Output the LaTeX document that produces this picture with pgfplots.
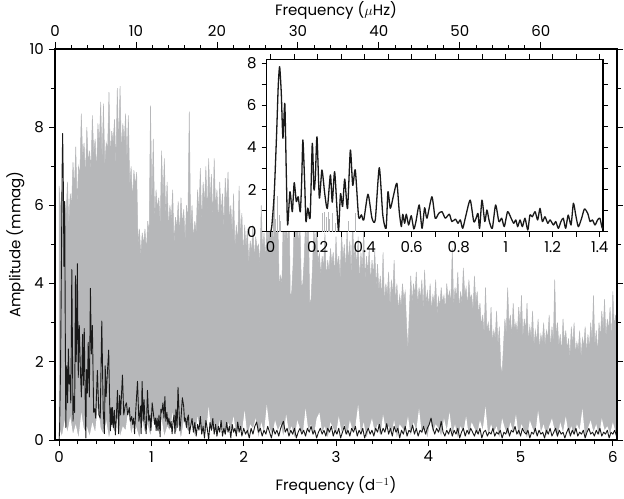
\documentclass[border=0pt]{standalone}
\usepackage{fontspec}
\setmainfont{Poppins}
\usepackage{pgfplots}
\usepackage{pgfplotstable}
\pgfplotsset{compat=1.18}
\definecolor{specgrey}{RGB}{182,183,185}
\definecolor{specblack}{RGB}{25,25,25}

% upper edge of the grey spectrum: spike tops and the solid level between them
\pgfplotstableread{
x y
0.000 6.5
0.015 5.8
0.030 6.4
0.045 5.3
0.060 6.1
0.075 5.7
0.090 6.6
0.105 5.5
0.120 6.3
0.135 6.0
0.150 7.1
0.165 6.4
0.180 7.5
0.195 6.0
0.210 7.0
0.225 6.8
0.240 8.35
0.255 7.2
0.270 7.6
0.285 6.7
0.300 8.0
0.315 7.1
0.330 7.4
0.345 6.9
0.360 8.3
0.375 7.3
0.390 7.7
0.405 6.8
0.420 8.1
0.435 7.5
0.450 8.65
0.465 7.1
0.480 8.6
0.495 7.0
0.510 7.6
0.525 7.4
0.540 8.9
0.555 7.2
0.570 7.9
0.585 7.6
0.600 8.2
0.615 7.0
0.630 9.0
0.645 7.5
0.660 9.05
0.675 7.3
0.690 8.1
0.705 7.6
0.720 8.35
0.735 7.1
0.750 8.3
0.765 6.5
0.780 7.0
0.795 6.1
0.810 6.9
0.825 6.5
0.840 6.85
0.855 5.0
0.870 5.4
0.885 4.7
0.900 5.3
0.915 5.0
0.930 5.4
0.945 4.8
0.960 5.6
0.975 5.2
0.990 8.55
1.005 6.0
1.020 7.7
1.035 5.6
1.050 6.4
1.065 5.9
1.080 6.2
1.095 5.5
1.110 7.4
1.125 6.1
1.140 7.2
1.155 5.7
1.170 6.6
1.185 5.4
1.200 6.0
1.215 5.6
1.230 6.4
1.245 5.0
1.260 5.7
1.275 5.4
1.290 6.1
1.305 5.2
1.320 6.2
1.335 5.5
1.350 5.9
1.365 5.1
1.380 6.0
1.395 5.6
1.410 8.4
1.425 5.4
1.440 6.0
1.455 5.1
1.470 5.6
1.485 5.3
1.500 6.4
1.515 5.8
1.530 6.95
1.545 5.5
1.560 6.6
1.575 6.0
1.590 7.0
1.605 5.7
1.620 7.2
1.635 6.1
1.650 6.8
1.665 5.6
1.680 7.2
1.695 5.9
1.710 6.4
1.725 5.5
1.740 6.6
1.755 5.8
1.770 6.3
1.785 5.4
1.800 6.7
1.815 6.0
1.830 6.86
1.845 5.6
1.860 6.0
1.875 5.3
1.890 6.3
1.905 4.9
1.920 5.5
1.935 5.0
1.950 6.5
1.965 5.2
1.980 5.8
1.995 4.7
2.010 5.5
2.025 4.9
2.040 5.4
2.055 4.5
2.070 5.1
2.085 4.8
2.100 5.5
2.115 4.6
2.130 5.2
2.145 4.9
2.160 5.0
2.175 4.4
2.190 6.0
2.205 4.8
2.220 5.3
2.235 4.6
2.250 5.5
2.265 5.0
2.280 6.0
2.295 5.2
2.310 5.8
2.325 4.9
2.340 6.2
2.355 5.1
2.370 5.6
2.385 3.9
2.400 4.2
2.415 4.0
2.430 6.0
2.445 5.0
2.460 5.7
2.475 4.8
2.490 6.3
2.505 3.6
2.520 3.8
2.535 4.5
2.550 5.9
2.565 5.1
2.580 6.1
2.595 4.9
2.610 5.5
2.625 3.9
2.640 4.0
2.655 4.6
2.670 5.6
2.685 5.0
2.700 5.8
2.715 3.5
2.730 3.6
2.745 4.4
2.760 5.4
2.775 4.9
2.790 5.6
2.805 4.5
2.820 4.8
2.835 4.2
2.850 4.7
2.865 4.4
2.880 5.3
2.895 4.1
2.910 4.6
2.925 4.3
2.940 4.9
2.955 4.5
2.970 4.8
2.985 4.2
3.000 5.2
3.015 4.4
3.030 4.7
3.045 4.1
3.060 5.3
3.075 4.6
3.090 5.0
3.105 4.3
3.120 5.4
3.135 4.5
3.150 5.1
3.165 4.2
3.180 5.6
3.195 4.6
3.210 5.0
3.225 4.4
3.240 5.2
3.255 4.0
3.270 4.8
3.285 4.3
3.300 5.4
3.315 4.1
3.330 4.7
3.345 4.3
3.360 4.9
3.375 4.0
3.390 4.6
3.405 4.2
3.420 4.85
3.435 3.9
3.450 4.5
3.465 3.8
3.480 4.2
3.495 3.6
3.510 4.8
3.525 3.5
3.540 4.0
3.555 3.7
3.570 4.3
3.585 3.4
3.600 4.1
3.615 3.7
3.630 4.6
3.645 3.5
3.660 4.0
3.675 3.3
3.690 3.7
3.705 3.4
3.720 4.0
3.735 3.6
3.750 3.8
3.765 2.9
3.780 2.3
3.795 3.3
3.810 4.2
3.825 3.5
3.840 4.0
3.855 3.7
3.870 4.3
3.885 3.4
3.900 3.9
3.915 3.6
3.930 4.1
3.945 3.3
3.960 4.35
3.975 3.5
3.990 3.8
4.005 3.4
4.020 4.0
4.035 3.3
4.050 3.7
4.065 3.5
4.080 4.1
4.095 3.2
4.110 3.65
4.125 3.4
4.140 3.9
4.155 3.5
4.170 3.7
4.185 3.3
4.200 4.0
4.215 3.6
4.230 3.8
4.245 3.5
4.260 4.9
4.275 3.4
4.290 3.9
4.305 3.6
4.320 4.3
4.335 3.3
4.350 3.8
4.365 3.5
4.380 4.4
4.395 3.7
4.410 3.9
4.425 3.4
4.440 4.1
4.455 3.6
4.470 3.7
4.485 3.3
4.500 4.2
4.515 3.5
4.530 3.8
4.545 3.2
4.560 3.5
4.575 2.9
4.590 3.2
4.605 2.7
4.620 3.9
4.635 2.8
4.650 3.0
4.665 2.6
4.680 3.4
4.695 2.5
4.710 2.8
4.725 2.6
4.740 3.3
4.755 2.4
4.770 2.9
4.785 1.9
4.800 1.7
4.815 2.4
4.830 3.1
4.845 2.7
4.860 3.9
4.875 2.9
4.890 3.2
4.905 2.6
4.920 3.5
4.935 2.8
4.950 3.0
4.965 2.7
4.980 3.4
4.995 2.9
5.010 3.7
5.025 2.6
5.040 3.1
5.055 2.8
5.070 3.5
5.085 2.5
5.100 2.9
5.115 2.6
5.130 3.3
5.145 2.4
5.160 2.8
5.175 2.5
5.190 3.1
5.205 2.3
5.220 2.7
5.235 2.5
5.250 3.0
5.265 2.4
5.280 2.8
5.295 2.6
5.310 3.2
5.325 2.3
5.340 2.9
5.355 2.5
5.370 4.1
5.385 2.6
5.400 3.0
5.415 2.4
5.430 2.7
5.445 2.2
5.460 3.1
5.475 2.5
5.490 2.8
5.505 2.3
5.520 2.6
5.535 2.1
5.550 2.9
5.565 2.4
5.580 3.0
5.595 2.2
5.610 2.5
5.625 2.3
5.640 2.8
5.655 2.1
5.670 2.6
5.685 2.4
5.700 2.9
5.715 2.2
5.730 2.7
5.745 2.3
5.760 3.0
5.775 2.5
5.790 3.7
5.805 2.4
5.820 2.8
5.835 2.2
5.850 3.0
5.865 2.6
5.880 3.3
5.895 2.8
5.910 3.6
5.925 2.6
5.940 3.1
5.955 2.8
5.970 3.4
5.985 2.5
6.000 3.8
6.015 2.9
6.030 3.2
6.045 2.7
}\greytop

% lower edge of the grey spectrum (its minima)
\pgfplotstableread{
x y
0.00 0.3
0.03 0.1
0.06 0.5
0.09 0.2
0.12 0.6
0.15 0.15
0.18 0.4
0.21 0.05
0.24 0.7
0.27 0.25
0.30 0.35
0.33 0.1
0.36 0.45
0.39 0.2
0.42 0.9
0.45 0.3
0.48 0.15
0.51 0.5
0.54 0.05
0.57 0.4
0.60 0.2
0.63 0.6
0.66 0.1
0.69 0.35
0.72 0.25
0.75 0.8
0.78 0.15
0.81 0.45
0.84 0.3
0.87 0.05
0.90 0.5
0.93 0.2
0.96 0.4
0.99 0.1
1.02 0.65
1.05 0.3
1.08 0.2
1.11 0.55
1.14 0.1
1.17 0.35
1.20 0.25
1.23 0.7
1.26 0.15
1.29 0.4
1.32 0.05
1.35 0.5
1.38 0.3
1.41 0.2
1.44 0.45
1.47 0.1
1.50 0.6
1.53 0.25
1.56 0.35
1.59 0.15
1.62 0.85
1.65 0.2
1.68 0.4
1.71 0.05
1.74 0.5
1.77 0.3
1.80 0.1
1.83 0.45
1.86 0.25
1.89 0.6
1.92 0.15
1.95 0.35
1.98 0.2
2.01 0.75
2.04 0.1
2.07 0.4
2.10 0.3
2.13 0.55
2.16 0.05
2.19 0.45
2.22 0.2
2.25 0.9
2.28 0.3
2.31 0.15
2.34 0.5
2.37 0.25
2.40 0.4
2.43 0.1
2.46 0.65
2.49 0.2
2.52 0.35
2.55 0.05
2.58 0.5
2.61 0.3
2.64 0.15
2.67 0.8
2.70 0.25
2.73 0.4
2.76 0.1
2.79 0.55
2.82 0.7
2.85 0.2
2.88 0.35
2.91 0.05
2.94 0.45
2.97 0.3
3.00 0.15
3.03 0.6
3.06 0.2
3.09 0.4
3.12 0.1
3.15 0.5
3.18 0.25
3.21 0.35
3.24 0.9
3.27 0.15
3.30 0.45
3.33 0.05
3.36 0.3
3.39 0.55
3.42 0.2
3.45 0.4
3.48 0.1
3.51 0.65
3.54 0.25
3.57 0.35
3.60 0.15
3.63 0.5
3.66 0.05
3.69 0.4
3.72 0.3
3.75 0.2
3.78 0.6
3.81 0.1
3.84 0.45
3.87 0.25
3.90 0.8
3.93 0.15
3.96 0.35
3.99 0.05
4.02 0.5
4.05 0.2
4.08 0.4
4.11 0.3
4.14 0.1
4.17 0.55
4.20 0.25
4.23 0.7
4.26 0.15
4.29 0.4
4.32 0.05
4.35 0.35
4.38 0.2
4.41 0.6
4.44 0.1
4.47 0.45
4.50 0.3
4.53 0.15
4.56 0.5
4.59 0.25
4.62 0.85
4.65 0.1
4.68 0.4
4.71 0.2
4.74 0.35
4.77 0.05
4.80 0.55
4.83 0.3
4.86 0.15
4.89 0.45
4.92 0.2
4.95 0.65
4.98 0.1
5.01 0.4
5.04 0.25
5.07 0.05
5.10 0.5
5.13 0.3
5.16 0.15
5.19 0.75
5.22 0.2
5.25 0.4
5.28 0.1
5.31 0.35
5.34 0.55
5.37 0.25
5.40 0.05
5.43 0.45
5.46 0.2
5.49 0.6
5.52 0.15
5.55 0.35
5.58 0.1
5.61 0.4
5.64 0.25
5.67 0.8
5.70 0.05
5.73 0.3
5.76 0.5
5.79 0.2
5.82 0.4
5.85 0.1
5.88 0.55
5.91 0.25
5.94 0.35
5.97 0.15
6.00 0.45
6.03 0.2
6.045 0.3
}\greylow

\pgfplotstableread{
x y
0.000 0.0
0.005 0.3
0.015 1.8
0.025 4.6
0.032 6.9
0.038 7.84
0.045 6.6
0.052 4.44
0.060 6.1
0.066 3.0
0.072 0.32
0.082 1.9
0.092 0.95
0.100 2.33
0.109 1.43
0.117 1.66
0.126 0.95
0.132 2.46
0.137 4.36
0.145 2.2
0.150 0.48
0.158 1.12
0.168 0.7
0.177 4.2
0.184 2.0
0.190 2.6
0.197 4.51
0.207 1.6
0.218 2.93
0.230 1.8
0.241 1.1
0.254 2.7
0.262 1.4
0.272 2.85
0.283 0.9
0.289 0.05
0.297 1.8
0.306 1.2
0.315 2.5
0.327 1.1
0.339 3.88
0.349 2.2
0.360 2.93
0.374 0.71
0.386 0.8
0.396 0.56
0.414 1.78
0.431 0.64
0.445 0.56
0.462 3.04
0.477 0.79
0.491 0.16
0.499 1.9
0.509 1.11
0.523 1.74
0.537 2.3
0.547 0.95
0.556 0.24
0.562 0.83
0.570 0.4
0.577 0.83
0.587 0.32
0.598 0.76
0.609 0.13
0.618 0.48
0.632 1.27
0.644 0.16
0.655 1.14
0.665 0.64
0.686 1.66
0.700 0.64
0.715 0.87
0.729 0.95
0.743 0.64
0.760 0.83
0.771 0.48
0.786 0.6
0.797 0.4
0.807 0.56
0.817 0.16
0.831 0.79
0.849 1.5
0.864 0.48
0.874 0.64
0.882 0.87
0.889 0.16
0.899 1.5
0.911 0.48
0.920 1.03
0.930 0.5
0.943 0.16
0.957 1.27
0.971 0.48
0.983 0.64
0.994 0.24
1.008 0.95
1.023 0.64
1.034 0.4
1.043 0.56
1.051 0.24
1.061 0.56
1.071 0.24
1.082 0.64
1.094 0.08
1.103 0.79
1.113 0.71
1.125 0.95
1.136 0.56
1.146 1.11
1.156 0.48
1.167 0.71
1.179 0.4
1.189 0.56
1.203 0.32
1.213 0.48
1.224 0.16
1.235 0.48
1.245 0.64
1.255 0.16
1.266 0.79
1.278 0.32
1.288 1.35
1.298 0.79
1.309 0.24
1.323 0.64
1.335 1.08
1.349 0.87
1.359 0.48
1.369 0.56
1.380 0.32
1.391 0.56
1.401 0.64
1.411 0.16
1.425 0.35
1.440 0.55
1.455 0.2
1.470 0.45
1.485 0.1
1.500 0.4
1.515 0.25
1.530 0.6
1.545 0.15
1.560 0.35
1.575 0.05
1.590 0.5
1.605 0.3
1.620 0.0
1.635 0.45
1.650 0.25
1.665 0.55
1.680 0.15
1.695 0.4
1.710 0.1
1.725 0.35
1.740 0.2
1.755 0.5
1.770 0.1
1.785 0.3
1.800 0.15
1.815 0.45
1.830 0.2
1.845 0.35
1.860 0.05
1.875 0.4
1.890 0.2
1.905 0.3
1.920 0.1
1.935 0.46
1.950 0.2
1.965 0.35
1.980 0.1
2.00 0.3
2.02 0.15
2.04 0.25
2.06 0.05
2.08 0.3
2.10 0.15
2.12 0.35
2.14 0.46
2.16 0.2
2.18 0.3
2.20 0.1
2.22 0.25
2.24 0.15
2.26 0.35
2.28 0.2
2.30 0.05
2.32 0.3
2.34 0.15
2.36 0.25
2.38 0.1
2.40 0.3
2.43 0.48
2.45 0.2
2.47 0.3
2.49 0.1
2.51 0.25
2.53 0.15
2.55 0.3
2.57 0.05
2.59 0.2
2.61 0.3
2.63 0.15
2.65 0.25
2.67 0.1
2.69 0.3
2.71 0.2
2.73 0.35
2.75 0.15
2.77 0.25
2.79 0.05
2.81 0.2
2.83 0.3
2.85 0.15
2.87 0.25
2.89 0.1
2.91 0.3
2.93 0.2
2.95 0.35
2.97 0.1
2.99 0.25
3.01 0.15
3.03 0.3
3.05 0.05
3.07 0.2
3.09 0.35
3.11 0.15
3.13 0.25
3.15 0.1
3.17 0.3
3.19 0.2
3.21 0.35
3.23 0.1
3.25 0.25
3.27 0.15
3.29 0.3
3.31 0.05
3.33 0.2
3.35 0.3
3.37 0.15
3.39 0.25
3.41 0.1
3.43 0.3
3.45 0.2
3.47 0.4
3.49 0.15
3.51 0.3
3.53 0.2
3.55 0.42
3.57 0.15
3.59 0.3
3.61 0.1
3.63 0.35
3.65 0.2
3.67 0.3
3.69 0.05
3.71 0.25
3.73 0.15
3.75 0.35
3.77 0.1
3.79 0.25
3.81 0.2
3.83 0.38
3.85 0.15
3.87 0.3
3.89 0.1
3.91 0.25
3.93 0.2
3.95 0.35
3.97 0.15
3.99 0.3
4.01 0.4
4.03 0.56
4.05 0.3
4.07 0.15
4.09 0.3
4.11 0.2
4.13 0.35
4.14 0.48
4.16 0.2
4.18 0.1
4.20 0.25
4.22 0.15
4.24 0.3
4.26 0.1
4.28 0.25
4.30 0.15
4.32 0.3
4.34 0.05
4.36 0.2
4.38 0.3
4.40 0.1
4.42 0.25
4.44 0.15
4.46 0.3
4.48 0.2
4.50 0.1
4.52 0.25
4.54 0.15
4.56 0.3
4.58 0.05
4.60 0.2
4.62 0.25
4.64 0.1
4.66 0.2
4.68 0.15
4.70 0.3
4.72 0.1
4.74 0.2
4.76 0.15
4.78 0.25
4.80 0.05
4.82 0.2
4.84 0.15
4.86 0.3
4.88 0.1
4.90 0.25
4.92 0.2
4.94 0.35
4.96 0.15
4.98 0.25
5.00 0.1
5.02 0.3
5.04 0.2
5.06 0.15
5.08 0.25
5.10 0.05
5.12 0.2
5.14 0.15
5.16 0.3
5.18 0.1
5.20 0.25
5.22 0.15
5.24 0.2
5.26 0.05
5.28 0.25
5.30 0.15
5.32 0.3
5.34 0.1
5.36 0.2
5.38 0.3
5.40 0.1
5.42 0.25
5.44 0.15
5.46 0.2
5.48 0.05
5.50 0.2
5.52 0.3
5.54 0.1
5.56 0.25
5.58 0.15
5.60 0.3
5.62 0.1
5.64 0.2
5.66 0.15
5.68 0.25
5.70 0.05
5.72 0.2
5.74 0.3
5.76 0.15
5.78 0.2
5.80 0.1
5.82 0.25
5.84 0.15
5.86 0.3
5.88 0.1
5.90 0.2
5.92 0.15
5.94 0.25
5.96 0.05
5.98 0.2
6.00 0.15
6.02 0.25
6.04 0.1
}\blackdata

\pgfplotstableread{
x y
0.010 0.9
0.015 1.7
0.022 0.6
0.030 1.7
0.036 0.8
0.042 0.5
0.222 0.9
0.228 0.95
0.236 0.7
0.244 0.93
0.252 0.6
0.262 0.9
0.275 0.4
0.330 0.5
0.362 0.9
}\insetgrey

\begin{document}
\fontsize{15bp}{18bp}\selectfont
\begin{tikzpicture}[font=\fontsize{15bp}{18bp}\selectfont]
\useasboundingbox (-55bp,-59bp) rectangle (569bp,440bp);
\begin{axis}[
  at={(0,0)}, anchor=south west,
  scale only axis, width=562bp, height=391bp,
  xmin=-0.045, xmax=6.045, ymin=0, ymax=10,
  axis on top,
  tick align=outside,
  xtick={0,1,2,3,4,5,6}, minor x tick num=4, xtick pos=bottom,
  ytick={0,2,4,6,8,10}, minor y tick num=1, ytick pos=both, yticklabel pos=left,
  major tick length=6bp, minor tick length=4bp,
  axis line style={line width=1.2bp, black},
  every tick/.style={line width=0.9bp, black},
  xlabel={Frequency (d$^{-1}$)},
  ylabel={Amplitude (mmag)},
  xlabel shift=4bp, ylabel shift=-5bp,
  /pgf/number format/assume math mode=true,
]
\addplot[fill=specgrey, draw=specgrey, line width=0.5bp] table {\greytop} \closedcycle;
\addplot[fill=white, draw=none] table {\greylow} \closedcycle;
\addplot[specblack, line width=0.9bp, line join=round] table {\blackdata};
\end{axis}
\begin{axis}[
  at={(0,0)}, anchor=south west,
  scale only axis, width=562bp, height=391bp,
  xmin=0, xmax=69.4, ymin=0, ymax=10,
  axis x line*=top, hide y axis,
  tick align=outside,
  xtick={0,10,20,30,40,50,60}, minor x tick num=4,
  major tick length=7bp, minor tick length=3.5bp,
  axis line style={line width=1.2bp, black},
  every tick/.style={line width=0.9bp, black},
  xlabel={Frequency ($\mu$Hz)}, xlabel shift=-4bp,
  /pgf/number format/assume math mode=true,
]
\addplot[draw=none] coordinates {(0,0)};
\end{axis}
\begin{axis}[
  at={(211.7bp,208.3bp)}, anchor=south west,
  scale only axis, width=336.3bp, height=172.4bp,
  xmin=-0.017, xmax=1.414, ymin=0, ymax=8.19,
  axis background/.style={fill=white},
  tick align=outside,
  xtick={0,0.2,0.4,0.6,0.8,1,1.2,1.4}, minor x tick num=1, xtick pos=both, xticklabel pos=bottom,
  ytick={0,2,4,6,8}, minor y tick num=1, ytick pos=both, yticklabel pos=left,
  major tick length=5bp, minor tick length=5bp,
  axis line style={line width=1.2bp, black},
  every tick/.style={line width=0.9bp, black},
  /pgf/number format/assume math mode=true,
]
\addplot[ycomb, specgrey, line width=1bp] table {\insetgrey};
\addplot[specblack, line width=1.3bp, smooth, tension=0.4, line join=round] table {\blackdata};
\end{axis}
\end{tikzpicture}
\end{document}
